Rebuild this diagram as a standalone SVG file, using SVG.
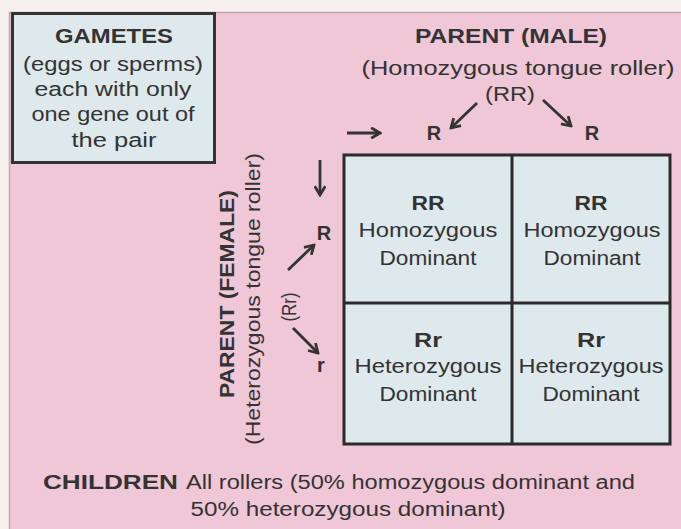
<svg xmlns="http://www.w3.org/2000/svg" width="681" height="529" viewBox="0 0 681 529">
<defs>
<style>
text{font-family:"Liberation Sans",Arial,sans-serif;fill:#333;font-size:20px}
.b{font-weight:bold}
.m{text-anchor:middle}
.cell{fill:#dde9ec;stroke:none}
.grid{stroke:#2b2b2b;stroke-width:3;fill:none}
.arr{stroke:#333;stroke-width:2.8;fill:none;marker-end:url(#ah)}
</style>
<marker id="ah" viewBox="0 0 10 10" refX="8.5" refY="5" markerWidth="4.5" markerHeight="4.5" orient="auto" markerUnits="strokeWidth">
<path d="M1.5,0.8 L8.5,5 L1.5,9.2" fill="none" stroke="#333" stroke-width="2.2" stroke-linejoin="miter"/>
</marker>
</defs>
<rect x="0" y="0" width="681" height="529" fill="#f6f1ee"/>
<rect x="9" y="12" width="672" height="517" fill="#efc7d6"/>
<line x1="9.5" y1="12" x2="9.5" y2="529" stroke="#caa3b2" stroke-width="1.5"/>
<line x1="9" y1="12.5" x2="681" y2="12.5" stroke="#caa3b2" stroke-width="1.5"/>

<g id="gametes">
<rect x="12.5" y="13.5" width="202" height="149" fill="#dde9ec" stroke="#333" stroke-width="3"/>
<text class="b m" x="114" y="43" textLength="118" lengthAdjust="spacingAndGlyphs">GAMETES</text>
<text class="m" x="113" y="71" textLength="180" lengthAdjust="spacingAndGlyphs">(eggs or sperms)</text>
<text class="m" x="113" y="96" textLength="157" lengthAdjust="spacingAndGlyphs">each with only</text>
<text class="m" x="113" y="121" textLength="163" lengthAdjust="spacingAndGlyphs">one gene out of</text>
<text class="m" x="114" y="147" textLength="85" lengthAdjust="spacingAndGlyphs">the pair</text>
</g>

<g id="parent-male">
<text class="b m" x="511" y="43" textLength="192" lengthAdjust="spacingAndGlyphs">PARENT (MALE)</text>
<text class="m" x="518" y="75" textLength="313" lengthAdjust="spacingAndGlyphs">(Homozygous tongue roller)</text>
<text class="m" x="510" y="101" textLength="50" lengthAdjust="spacingAndGlyphs">(RR)</text>
</g>

<g id="gamete-male-1"><text class="b m" x="434" y="140" font-size="17">R</text></g>
<g id="gamete-male-2"><text class="b m" x="592" y="140" font-size="17">R</text></g>

<g id="parent-female">
<text class="b m" transform="translate(234,294) rotate(-90)" textLength="208" lengthAdjust="spacingAndGlyphs">PARENT (FEMALE)</text>
<text class="m" transform="translate(260,299) rotate(-90)" textLength="292" lengthAdjust="spacingAndGlyphs">(Heterozygous tongue roller)</text>
<text class="m" transform="translate(296,307) rotate(-90)" textLength="29" lengthAdjust="spacingAndGlyphs">(Rr)</text>
</g>

<g id="gamete-female-1"><text class="b m" x="324" y="240" font-size="16">R</text></g>
<g id="gamete-female-2"><text class="b m" x="321" y="372" font-size="16">r</text></g>

<g id="punnett-square">
<g id="cell-1">
<rect class="cell" x="344" y="155" width="168" height="148"/>
<text class="b m" x="428" y="210" textLength="33" lengthAdjust="spacingAndGlyphs">RR</text>
<text class="m" x="428" y="237" textLength="139" lengthAdjust="spacingAndGlyphs">Homozygous</text>
<text class="m" x="428" y="265" textLength="97" lengthAdjust="spacingAndGlyphs">Dominant</text>
</g>
<g id="cell-2">
<rect class="cell" x="512" y="155" width="158" height="148"/>
<text class="b m" x="591" y="210" textLength="33" lengthAdjust="spacingAndGlyphs">RR</text>
<text class="m" x="592" y="237" textLength="137" lengthAdjust="spacingAndGlyphs">Homozygous</text>
<text class="m" x="592" y="265" textLength="97" lengthAdjust="spacingAndGlyphs">Dominant</text>
</g>
<g id="cell-3">
<rect class="cell" x="344" y="303" width="168" height="141"/>
<text class="b m" x="428" y="347" textLength="28" lengthAdjust="spacingAndGlyphs">Rr</text>
<text class="m" x="428" y="373" textLength="147" lengthAdjust="spacingAndGlyphs">Heterozygous</text>
<text class="m" x="428" y="401" textLength="97" lengthAdjust="spacingAndGlyphs">Dominant</text>
</g>
<g id="cell-4">
<rect class="cell" x="512" y="303" width="158" height="141"/>
<text class="b m" x="591" y="347" textLength="28" lengthAdjust="spacingAndGlyphs">Rr</text>
<text class="m" x="591" y="373" textLength="145" lengthAdjust="spacingAndGlyphs">Heterozygous</text>
<text class="m" x="591" y="401" textLength="97" lengthAdjust="spacingAndGlyphs">Dominant</text>
</g>
<rect class="grid" x="344" y="155" width="326" height="289"/>
<line class="grid" x1="512" y1="155" x2="512" y2="444"/>
<line class="grid" x1="344" y1="303" x2="670" y2="303"/>
</g>

<g id="connectors">
<line class="arr" x1="347" y1="133" x2="380" y2="133"/>
<line class="arr" x1="320" y1="160" x2="320" y2="195"/>
<line class="arr" x1="477" y1="103" x2="451" y2="128"/>
<line class="arr" x1="543" y1="100" x2="571" y2="126"/>
<line class="arr" x1="288" y1="270" x2="314" y2="245"/>
<line class="arr" x1="293" y1="328" x2="318" y2="353"/>
</g>

<g id="children">
<text class="b" x="43" y="489" textLength="135" lengthAdjust="spacingAndGlyphs">CHILDREN</text>
<text x="186" y="489" textLength="449" lengthAdjust="spacingAndGlyphs">All rollers (50% homozygous dominant and</text>
<text class="m" x="348" y="516" textLength="315" lengthAdjust="spacingAndGlyphs">50% heterozygous dominant)</text>
</g>
</svg>
